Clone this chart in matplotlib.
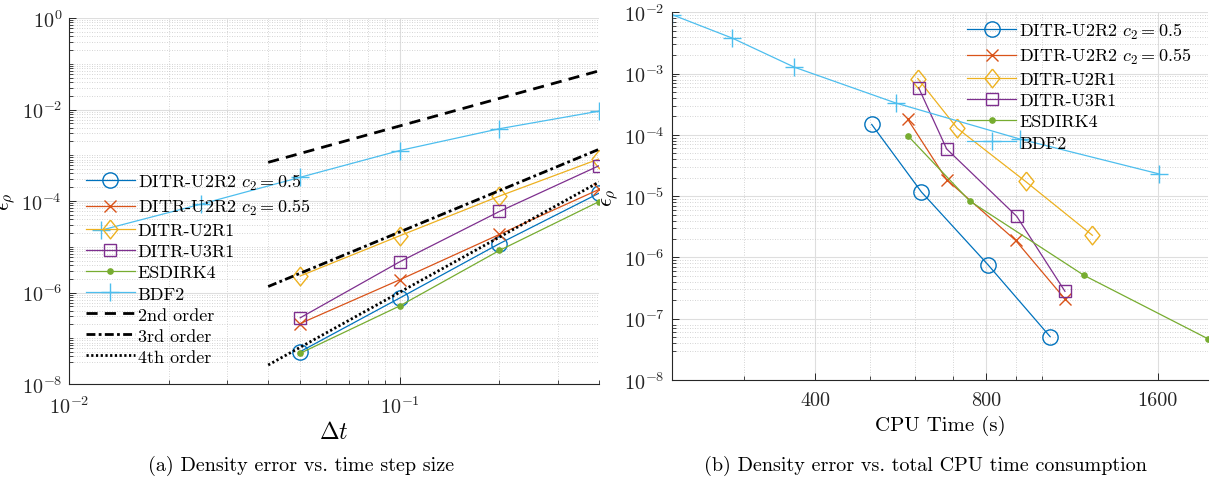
import numpy as np
import matplotlib
matplotlib.use("Agg")
import matplotlib.pyplot as plt
from matplotlib.ticker import FixedLocator, FuncFormatter, NullFormatter

# ---------------- data ----------------
dt = [0.05, 0.1, 0.2, 0.4]
dt_bdf2 = [0.0125, 0.025, 0.05, 0.1, 0.2, 0.4]

err_u2r2_05 = [5.1e-8, 7.6e-7, 1.17e-5, 1.48e-4]
err_u2r2_055 = [2.1e-7, 1.9e-6, 1.86e-5, 1.79e-4]
err_u2r1 = [2.3e-6, 1.74e-5, 1.28e-4, 8.3e-4]
err_u3r1 = [2.8e-7, 4.7e-6, 5.9e-5, 5.9e-4]
err_esdirk4 = [4.7e-8, 5.1e-7, 8.3e-6, 9.7e-5]
err_bdf2 = [2.3e-5, 8.5e-5, 3.3e-4, 1.27e-3, 3.8e-3, 9.2e-3]

cpu_u2r2_05 = [1035, 805, 615, 503]
cpu_u2r2_055 = [1099, 900, 681, 582]
cpu_u2r1 = [1228, 937, 711, 606]
cpu_u3r1 = [1099, 904, 681, 608]
cpu_esdirk4 = [1960, 1187, 748, 582]
cpu_bdf2 = [1610, 918, 555, 368, 286, 224]

order_dt = [0.04, 0.4]
order2 = [7.0e-4, 7.0e-2]
order3 = [1.35e-6, 1.35e-3]
order4 = [2.6e-8, 2.6e-4]

labels = [r"DITR-U2R2 $c_2 = 0.5$", r"DITR-U2R2 $c_2 = 0.55$", "DITR-U2R1",
          "DITR-U3R1", "ESDIRK4", "BDF2"]
order_labels = ["2nd order", "3rd order", "4th order"]
cpu_ticks = [400, 800, 1600]
captions = ["(a) Density error vs. time step size",
            "(b) Density error vs. total CPU time consumption"]

# ---------------- style ----------------
plt.rcParams["font.family"] = ["cmr10", "DejaVu Serif"]
plt.rcParams["mathtext.fontset"] = "cm"
plt.rcParams["axes.unicode_minus"] = False
plt.rcParams["axes.formatter.use_mathtext"] = True

colors = ["#0072BD", "#D95319", "#EDB120", "#7E2F8E", "#77AC30", "#4DBEEE"]
diamond = [(0, 1), (0.8, 0), (0, -1), (-0.8, 0), (0, 1)]
mk = [dict(marker="o", ms=11, mfc="none"),
      dict(marker="x", ms=8.5, mew=1.0),
      dict(marker=diamond, ms=13.5, mfc="none"),
      dict(marker="s", ms=9, mfc="none"),
      dict(marker="o", ms=3.8),
      dict(marker="+", ms=13, mew=1.0)]

LW = 0.9
TICK_FS = 14.5
LEG_FS = 13

fig = plt.figure(figsize=(12.14, 4.85), dpi=100)
axL = fig.add_axes([69 / 1214, 1 - 385 / 485, 530 / 1214, 366 / 485])
axR = fig.add_axes([671.7 / 1214, 1 - 381 / 485, (1208 - 671.7) / 1214, 367.7 / 485])


def pow_fmt(v, pos):
    if v <= 0:
        return ""
    e = int(round(np.log10(v)))
    return r"$10^{%d}$" % e


def style_axes(ax):
    ax.set_xscale("log")
    ax.set_yscale("log")
    for s in ["top", "right"]:
        ax.spines[s].set_visible(False)
    for s in ["left", "bottom"]:
        ax.spines[s].set_color("#262626")
        ax.spines[s].set_linewidth(0.8)
    ax.tick_params(which="both", direction="in", colors="#262626",
                   labelsize=TICK_FS, labelcolor="#262626")
    ax.tick_params(which="major", length=5, width=0.7)
    ax.tick_params(which="minor", length=2.8, width=0.6)
    ax.tick_params(axis="x", which="major", pad=8)
    ax.tick_params(axis="y", which="major", pad=5)
    ax.grid(True, which="major", color="#dedede", lw=0.8, ls="-")
    ax.grid(True, which="minor", color="#c6c6c6", lw=0.6, ls=(0, (1, 2)))
    ax.set_axisbelow(True)


def minor_positions(lo, hi, majors):
    out = []
    for k in range(int(np.floor(np.log10(lo))) - 1, int(np.ceil(np.log10(hi))) + 1):
        for m in range(1, 10):
            v = m * 10.0 ** k
            if lo <= v <= hi and not any(np.isclose(v, mj) for mj in majors):
                out.append(v)
    return out


legend_kw = dict(loc="upper left", frameon=False, fontsize=LEG_FS,
                 handlelength=2.7, handletextpad=0.17, labelspacing=0.3,
                 borderpad=0, borderaxespad=0)

# ---------------- left: error vs dt ----------------
style_axes(axL)
series_dt = [(dt, err_u2r2_05), (dt, err_u2r2_055), (dt, err_u2r1),
             (dt, err_u3r1), (dt, err_esdirk4), (dt_bdf2, err_bdf2)]
handles = []
for (x, y), c, m, lab in zip(series_dt, colors, mk, labels):
    h, = axL.plot(x, y, color=c, lw=LW, label=lab, mec=c,
                  **({**m, "mfc": m.get("mfc", c)}))
    handles.append(h)
h2, = axL.plot(order_dt, order2, color="k", lw=2.0, ls=(0, (4, 2.6)), label=order_labels[0])
h3, = axL.plot(order_dt, order3, color="k", lw=2.0, ls=(0, (3.2, 1.2, 1.0, 1.2)), label=order_labels[1])
h4, = axL.plot(order_dt, order4, color="k", lw=2.0, ls=(0, (0.8, 0.9)), label=order_labels[2])
handles += [h2, h3, h4]

axL.set_xlim(0.01, 0.4)
axL.set_ylim(1e-8, 1e0)
yl_major = [10.0 ** e for e in range(-8, 1, 2)]
axL.yaxis.set_major_locator(FixedLocator(yl_major))
axL.yaxis.set_minor_locator(FixedLocator(minor_positions(1e-8, 1e0, yl_major)))
xl_major = [1e-2, 1e-1]
axL.xaxis.set_major_locator(FixedLocator(xl_major))
axL.xaxis.set_minor_locator(FixedLocator(minor_positions(0.01, 0.4, xl_major)))
axL.xaxis.set_major_formatter(FuncFormatter(pow_fmt))
axL.yaxis.set_major_formatter(FuncFormatter(pow_fmt))
axL.xaxis.set_minor_formatter(NullFormatter())
axL.yaxis.set_minor_formatter(NullFormatter())
axL.set_xlabel(r"$\Delta t$", fontsize=17, labelpad=3)
axL.set_ylabel(r"$\epsilon_\rho$", fontsize=16, labelpad=3)

axL.legend(handles=handles, bbox_to_anchor=(0.032, 0.58), **legend_kw)

# ---------------- right: error vs CPU time ----------------
style_axes(axR)
series_cpu = [(cpu_u2r2_05, err_u2r2_05), (cpu_u2r2_055, err_u2r2_055),
              (cpu_u2r1, err_u2r1), (cpu_u3r1, err_u3r1),
              (cpu_esdirk4, err_esdirk4), (cpu_bdf2, err_bdf2)]
hr = []
for (x, y), c, m, lab in zip(series_cpu, colors, mk, labels):
    h, = axR.plot(x, y, color=c, lw=LW, label=lab, mec=c,
                  **({**m, "mfc": m.get("mfc", c)}))
    hr.append(h)

all_cpu = np.concatenate([np.asarray(s[0], float) for s in series_cpu])
axR.set_xlim(all_cpu.min(), all_cpu.max())
axR.set_ylim(1e-8, 1e-2)
axR.xaxis.set_major_locator(FixedLocator(cpu_ticks))
axR.xaxis.set_minor_locator(FixedLocator(minor_positions(all_cpu.min(), all_cpu.max(), cpu_ticks)))
axR.xaxis.set_major_formatter(FuncFormatter(lambda v, p: "%d" % v))
axR.xaxis.set_minor_formatter(NullFormatter())
yr_major = [10.0 ** e for e in range(-8, -1)]
axR.yaxis.set_major_locator(FixedLocator(yr_major))
axR.yaxis.set_minor_locator(FixedLocator(minor_positions(1e-8, 1e-2, yr_major)))
axR.yaxis.set_major_formatter(FuncFormatter(pow_fmt))
axR.yaxis.set_minor_formatter(NullFormatter())
axR.set_xlabel("CPU Time (s)", fontsize=15, labelpad=4)
axR.set_ylabel(r"$\epsilon_\rho$", fontsize=16, labelpad=3)

axR.legend(handles=hr, bbox_to_anchor=(0.551, 0.977), **legend_kw)

# ---------------- captions ----------------
fig.text(301 / 1214, 1 - 466 / 485, captions[0], ha="center", va="center", fontsize=14.5)
fig.text(925 / 1214, 1 - 466 / 485, captions[1], ha="center", va="center", fontsize=14.5)

fig.savefig("out.png", dpi=100)
